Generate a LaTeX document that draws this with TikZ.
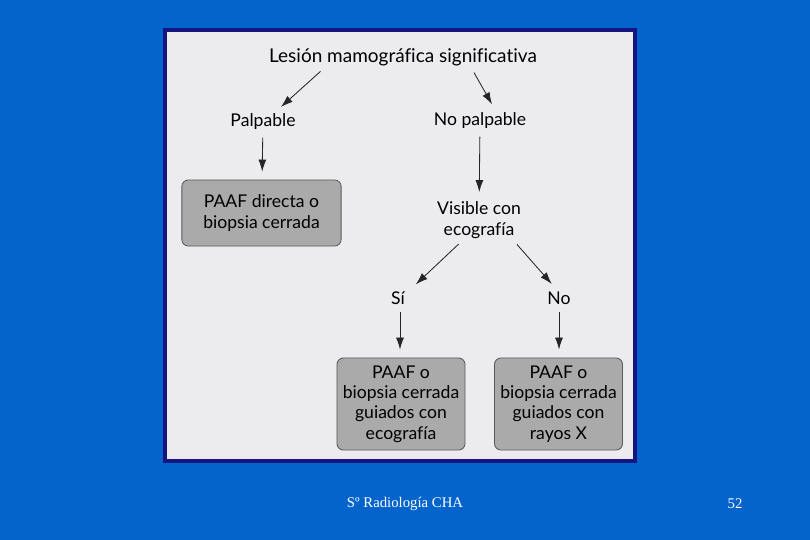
\documentclass[tikz,border=0pt]{standalone}
\usepackage{fontspec}
\setmainfont{Lato}[Ligatures=NoCommon]
\newfontfamily\footfont{Liberation Serif}
\usetikzlibrary{positioning,arrows.meta}

\definecolor{slideblue}{RGB}{4,100,204}
\definecolor{framenavy}{RGB}{22,22,130}
\definecolor{paper}{RGB}{236,236,238}
\definecolor{boxgray}{RGB}{170,170,170}

\begin{document}
\begin{tikzpicture}[
  x=0.025cm,
  y=-0.025cm,
  >={Latex[length=3mm,width=2mm]},
  arr/.style={->,line width=0.6pt,black!85,shorten <=1.5mm,shorten >=2mm},
  txt/.style={
    font=\fontsize{12.5}{14.5}\selectfont,
    align=center,
    inner sep=1pt
  },
  choice/.style={
    txt,
    draw=black!65,
    fill=boxgray,
    line width=0.6pt,
    rounded corners=1.6mm
  }
]
% slide and picture frame
\fill[slideblue] (0,0) rectangle (810,540);
\draw[framenavy,line width=1mm,fill=paper] (165,30) rectangle (635,461);

\node[txt,font=\fontsize{13.5}{15}\selectfont] (lesion) at (403,57) {Lesión mamográfica significativa};
\node[txt] (palp) at (263,122) {Palpable};
\node[txt] (nopalp) at (480,121) {No palpable};
\node[choice,minimum width=3.98cm,minimum height=1.65cm] (directa) at (261.5,213)
  {PAAF directa o\\biopsia cerrada};
\node[txt] (visible) at (479,220) {Visible con\\ecografía};
\node[txt] (si) at (398,298) {Sí};
\node[txt] (no) at (559,298) {No};
\node[choice,minimum width=3.2cm,minimum height=2.3cm] (eco) at (401,404)
  {PAAF o\\biopsia cerrada\\guiados con\\ecografía};
\node[choice,minimum width=3.2cm,minimum height=2.3cm] (rayos) at (558.5,404)
  {PAAF o\\biopsia cerrada\\guiados con\\rayos X};

\draw[arr] ([xshift=-1.95cm]lesion.south) -- ([xshift=0.3cm]palp.north);
\draw[arr] ([xshift=1.7cm]lesion.south) -- ([xshift=0.4cm]nopalp.north);
\draw[arr] (palp) -- (directa);
\draw[arr] (nopalp) -- (visible);
\draw[arr] ([xshift=-0.4cm]visible.south) -- ([xshift=0.3cm]si.north);
\draw[arr] ([xshift=0.85cm]visible.south) -- ([xshift=-0.05cm]no.north);
\draw[arr] ([xshift=0.05cm]si.south) -- ([xshift=0.05cm]si.south |- eco.north);
\draw[arr] (no) -- (no |- rayos.north);

% footer
\node[font=\footfont\fontsize{10.5}{12}\selectfont,text=white] (foot) at (405,504)
  {Sº Radiología CHA};
\node[font=\footfont\fontsize{10.5}{12}\selectfont,text=white] (page) at (735,504) {52};
\end{tikzpicture}
\end{document}
